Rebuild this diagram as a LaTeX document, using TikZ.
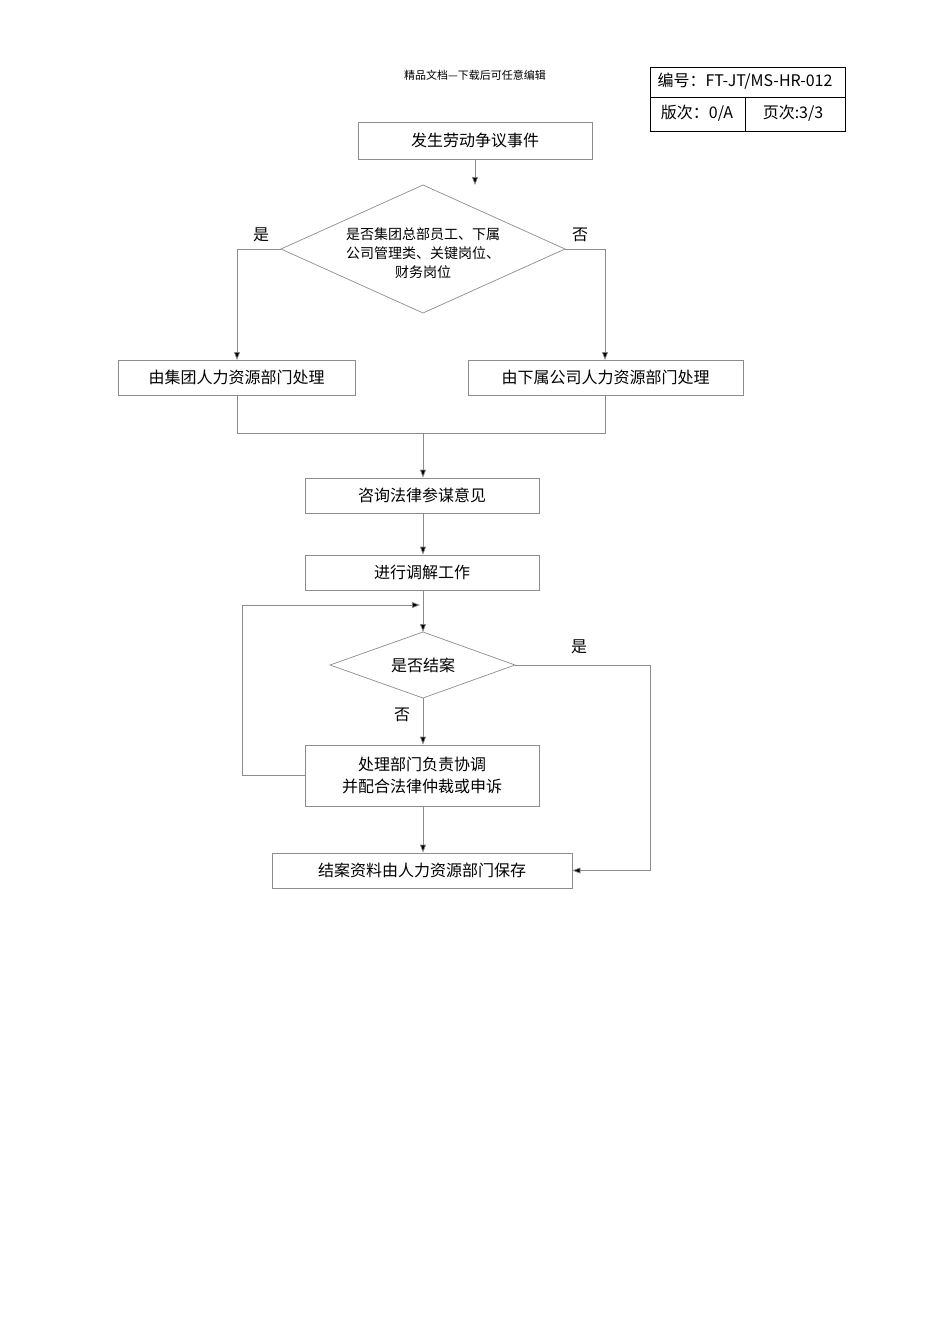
\documentclass[tikz,border=0pt]{standalone}
\usepackage{fontspec}
\setmainfont{Noto Sans CJK SC}
\usetikzlibrary{shapes.geometric,arrows.meta}
\begin{document}
\begin{tikzpicture}[x=1pt,y=-1pt,
  bx/.style={draw=black!45,line width=0.7pt,inner sep=0pt,font=\fontsize{16}{20}\selectfont},
  ln/.style={draw=black!45,line width=0.7pt},
  ar/.style={ln,-{Triangle[length=8pt,width=6pt,fill=black]}},
  lb/.style={font=\fontsize{16}{20}\selectfont}]
\useasboundingbox (0,0) rectangle (950,1344);
\node[font=\fontsize{11}{13}\selectfont] (hdr) at (475,75) {精品文档---下载后可任意编辑};
\draw[black,line width=0.7pt] (650,67) rectangle (845,131) (650,97)--(845,97) (745,97)--(745,131);
\node[lb] (t1) at (745,81) {编号：FT-JT/MS-HR-012};
\node[lb] (t2) at (697,113) {版次：0/A};
\node[lb] (t3) at (793,113) {页次:3/3};
\node[bx,minimum width=234pt,minimum height=37pt] (b1) at (475,140.5) {发生劳动争议事件};
\draw[ln] (281,249)--(423,185)--(565,249)--(423,313)--cycle;
\coordinate (d1t) at (423,185); \coordinate (d1l) at (281,249); \coordinate (d1r) at (565,249);
\node[align=center,font=\fontsize{14}{19}\selectfont] (d1) at (423,253) {是否集团总部员工、下属\\公司管理类、关键岗位、\\财务岗位};
\draw[ar] (475,159)--(475,185);
\node[lb] (y1) at (261,235) {是};
\node[lb] (n1) at (580,235) {否};
\node[bx,minimum width=237pt,minimum height=35pt] (b2) at (236.5,377.5) {由集团人力资源部门处理};
\node[bx,minimum width=275pt,minimum height=35pt] (b3) at (605.5,377.5) {由下属公司人力资源部门处理};
\draw[ar] (d1l)--(237,249)--(237,360);
\draw[ar] (d1r)--(605,249)--(605,360);
\draw[ln] (237,395)--(237,433)--(605,433)--(605,395);
\node[bx,minimum width=234pt,minimum height=35pt] (b4) at (422,495.5) {咨询法律参谋意见};
\draw[ar] (423,433)--(b4.north-|423,0);
\node[bx,minimum width=234pt,minimum height=35pt] (b5) at (422,572.5) {进行调解工作};
\draw[ar] (b4.south-|423,0)--(b5.north-|423,0);
\draw[ln] (330,665)--(423,632)--(515,665)--(423,698)--cycle;
\node[lb] (d2) at (423,665) {是否结案};
\draw[ar] (b5.south-|423,0)--(423,632);
\node[bx,minimum width=234pt,minimum height=61pt,align=center,font=\fontsize{16}{22}\selectfont] (b6) at (422,775.5) {处理部门负责协调\\并配合法律仲裁或申诉};
\draw[ar] (423,698)--(b6.north-|423,0);
\node[lb] (n2) at (402,715) {否};
\draw[ar] (b6.west)--(242,775.5)--(242,605)--(420,605);
\node[bx,minimum width=300pt,minimum height=35pt] (b7) at (422,870.5) {结案资料由人力资源部门保存};
\draw[ar] (b6.south-|423,0)--(b7.north-|423,0);
\node[lb] (y2) at (579,647) {是};
\draw[ar] (515,665)--(650,665)--(650,870.5)--(b7.east);
\end{tikzpicture}
\end{document}
